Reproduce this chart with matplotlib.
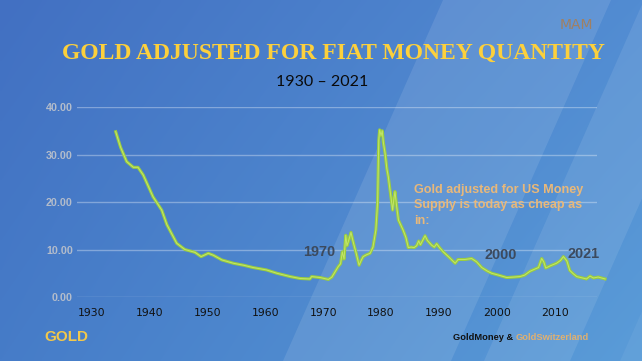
import numpy as np
import matplotlib
matplotlib.use("Agg")
import matplotlib.pyplot as plt
from matplotlib.patches import Polygon

# ---------------- data ----------------
years = [1934.15, 1935.0, 1936.05, 1937.2, 1938.0, 1938.9, 1940.6, 1942.1, 1943.0, 1944.7,
         1946.1, 1947.85, 1948.9, 1950.15, 1951.0, 1952.5, 1954.5, 1956.2, 1957.9, 1960.2,
         1962.0, 1964.3, 1966.0, 1967.7, 1968.0, 1969.45, 1970.9, 1971.5, 1972.0, 1972.6,
         1973.0, 1973.3, 1973.6, 1973.9, 1974.1, 1974.3, 1974.8, 1975.2, 1975.7, 1976.2,
         1976.6, 1976.9, 1977.5, 1978.1, 1978.6, 1979.1, 1979.4, 1979.6, 1979.75, 1980.0,
         1980.2, 1980.4, 1980.7, 1981.0, 1981.25, 1981.6, 1982.0, 1982.2, 1982.4, 1982.7,
         1983.0, 1983.8, 1984.3, 1984.7, 1985.2, 1985.7, 1986.15, 1986.5, 1986.8, 1987.3,
         1987.6, 1988.0, 1988.75, 1989.2, 1989.6, 1990.1, 1990.75, 1991.8, 1992.8, 1993.3,
         1994.5, 1995.65, 1996.5, 1997.4, 1998.3, 1999.1, 2000.3, 2001.7, 2003.0, 2004.0,
         2004.8, 2005.7, 2006.8, 2007.2, 2007.75, 2008.1, 2008.45, 2009.3, 2010.3, 2011.0,
         2011.5, 2012.1, 2012.6, 2013.2, 2013.8, 2015.5, 2016.1, 2016.7, 2017.5, 2018.7]
values = [34.8, 31.5, 28.5, 27.3, 27.3, 25.7, 21.1, 18.3, 15.2, 11.3,
          10.0, 9.4, 8.5, 9.2, 8.8, 7.8, 7.1, 6.7, 6.2, 5.7,
          5.0, 4.3, 3.9, 3.8, 4.3, 4.1, 3.7, 4.2, 5.2, 6.4,
          7.0, 9.5, 8.0, 13.0, 10.8, 11.5, 13.6, 11.5, 9.2, 6.7,
          7.8, 8.5, 8.9, 9.2, 10.5, 14.1, 20.0, 33.0, 35.2, 34.0,
          35.0, 32.5, 30.2, 27.0, 25.3, 22.0, 18.3, 20.5, 22.2, 19.0,
          16.2, 14.1, 12.5, 10.4, 10.5, 10.4, 10.8, 11.8, 11.0, 12.2,
          12.9, 11.9, 10.9, 10.5, 11.2, 10.4, 9.5, 8.3, 7.1, 7.9,
          7.9, 8.1, 7.4, 6.2, 5.5, 5.0, 4.6, 4.1, 4.2, 4.3,
          4.6, 5.4, 6.0, 6.2, 8.1, 7.4, 6.1, 6.6, 7.1, 7.7,
          8.5, 7.6, 5.6, 4.9, 4.3, 3.8, 4.4, 4.0, 4.2, 3.8]

x_ticks = [1930, 1940, 1950, 1960, 1970, 1980, 1990, 2000, 2010]
y_ticks = [0, 10, 20, 30, 40]
title = "GOLD ADJUSTED FOR FIAT MONEY QUANTITY"
subtitle = "1930 \u2013 2021"
note = "Gold adjusted for US Money\nSupply is today as cheap as\nin:"
year_labels = ["1970", "2000", "2021"]

# ---------------- figure ----------------
W, H = 642, 361
fig = plt.figure(figsize=(W / 100, H / 100), dpi=100)

def px(x, y):
    return x / W, 1 - y / H

# background gradient
bg = fig.add_axes([0, 0, 1, 1], zorder=0)
bg.set_xlim(0, W)
bg.set_ylim(H, 0)
bg.axis("off")
u = np.linspace(0, 1, 200)[None, :]
v = np.linspace(0, 1, 120)[:, None]
tl = np.array([66, 112, 194]) / 255
tr = np.array([82, 140, 210]) / 255
bl = np.array([70, 124, 200]) / 255
br = np.array([90, 156, 216]) / 255
img = (tl[None, None, :] * ((1 - u) * (1 - v))[..., None]
       + tr[None, None, :] * (u * (1 - v))[..., None]
       + bl[None, None, :] * ((1 - u) * v)[..., None]
       + br[None, None, :] * (u * v)[..., None])
bg.imshow(img, extent=[0, W, H, 0], aspect="auto", interpolation="bilinear")
shift = 160
for b0, b1, a in [(283, 451, 0.10), (484, 570, 0.09), (620, 760, 0.05)]:
    poly = Polygon([(b0, H), (b1, H), (b1 + shift, 0), (b0 + shift, 0)],
                   closed=True, facecolor="white", alpha=a, edgecolor="none")
    bg.add_patch(poly)

# main axes
left, right = 77 / W, 597 / W
bottom, top = 1 - 297 / H, 1 - 107 / H
ax = fig.add_axes([left, bottom, right - left, top - bottom], zorder=2)
ax.patch.set_alpha(0)
x0 = 1970 + (77 - 323.2) / 5.788
x1 = 1970 + (597 - 323.2) / 5.788
ax.set_xlim(x0, x1)
ax.set_ylim(0, 40)
for s in ax.spines.values():
    s.set_visible(False)
ax.set_yticks(y_ticks)
ax.set_yticklabels([f"{t:.2f}" for t in y_ticks])
ax.set_xticks(x_ticks)
ax.set_xticklabels([str(t) for t in x_ticks])
ax.tick_params(axis="y", length=0, pad=3, labelsize=7.7, labelcolor="#b3bccb")
ax.tick_params(axis="x", length=0, pad=8, labelsize=8.3, labelcolor="#111111")
for lab in ax.get_yticklabels():
    lab.set_fontfamily("Liberation Sans")
    lab.set_fontweight("bold")
for lab in ax.get_xticklabels():
    lab.set_fontfamily("DejaVu Sans")
    lab.set_fontsize(7.8)
ax.yaxis.grid(True, color="white", alpha=0.33, lw=1)
ax.set_axisbelow(True)

ax.plot(years, values, color="#9acd3e", lw=2.2, clip_on=False, solid_joinstyle="round", zorder=3)
ax.plot(years, values, color="#c2e56a", lw=0.7, clip_on=False, solid_joinstyle="round", zorder=4)

# texts
fig.text(*px(333.5, 53), title, ha="center", va="center", fontsize=17,
         fontfamily="Liberation Serif", fontweight="bold", color="#fcd03c", zorder=5)
fig.text(*px(322, 82), subtitle, ha="center", va="center", fontsize=11.5,
         fontfamily="Lato", color="#0a0a0a", zorder=5)

for lab, (lx, ly) in zip(year_labels, [(319, 252), (501, 255), (584, 254)]):
    fig.text(*px(lx, ly), lab, ha="center", va="center", fontsize=10.4,
             fontfamily="Liberation Sans", fontweight="bold", color="#3c4a5e", zorder=5)

fig.text(*px(414, 184), note, ha="left", va="top", fontsize=9.1,
         fontfamily="Liberation Sans", fontweight="bold", color="#e8b87a",
         linespacing=1.38, zorder=5)

t1 = fig.text(*px(453, 338), "GoldMoney & ", ha="left", va="center", fontsize=6.7,
              fontfamily="Liberation Sans", fontweight="bold", color="#111111", zorder=5)
fig.canvas.draw()
bb = t1.get_window_extent()
fig.text(bb.x1 / W, 1 - 338 / H, "GoldSwitzerland", ha="left", va="center", fontsize=6.7,
         fontfamily="Liberation Sans", fontweight="bold", color="#e0b070", zorder=5)

fig.text(*px(66, 337), "GOLD", ha="center", va="center", fontsize=11,
         fontfamily="Liberation Sans", fontweight="bold", color="#f2c84b", zorder=5)
fig.text(*px(576, 25), "MAM", ha="center", va="center", fontsize=10,
         fontfamily="DejaVu Sans", color="#a08062", zorder=5)

fig.savefig("out.png", dpi=100)
